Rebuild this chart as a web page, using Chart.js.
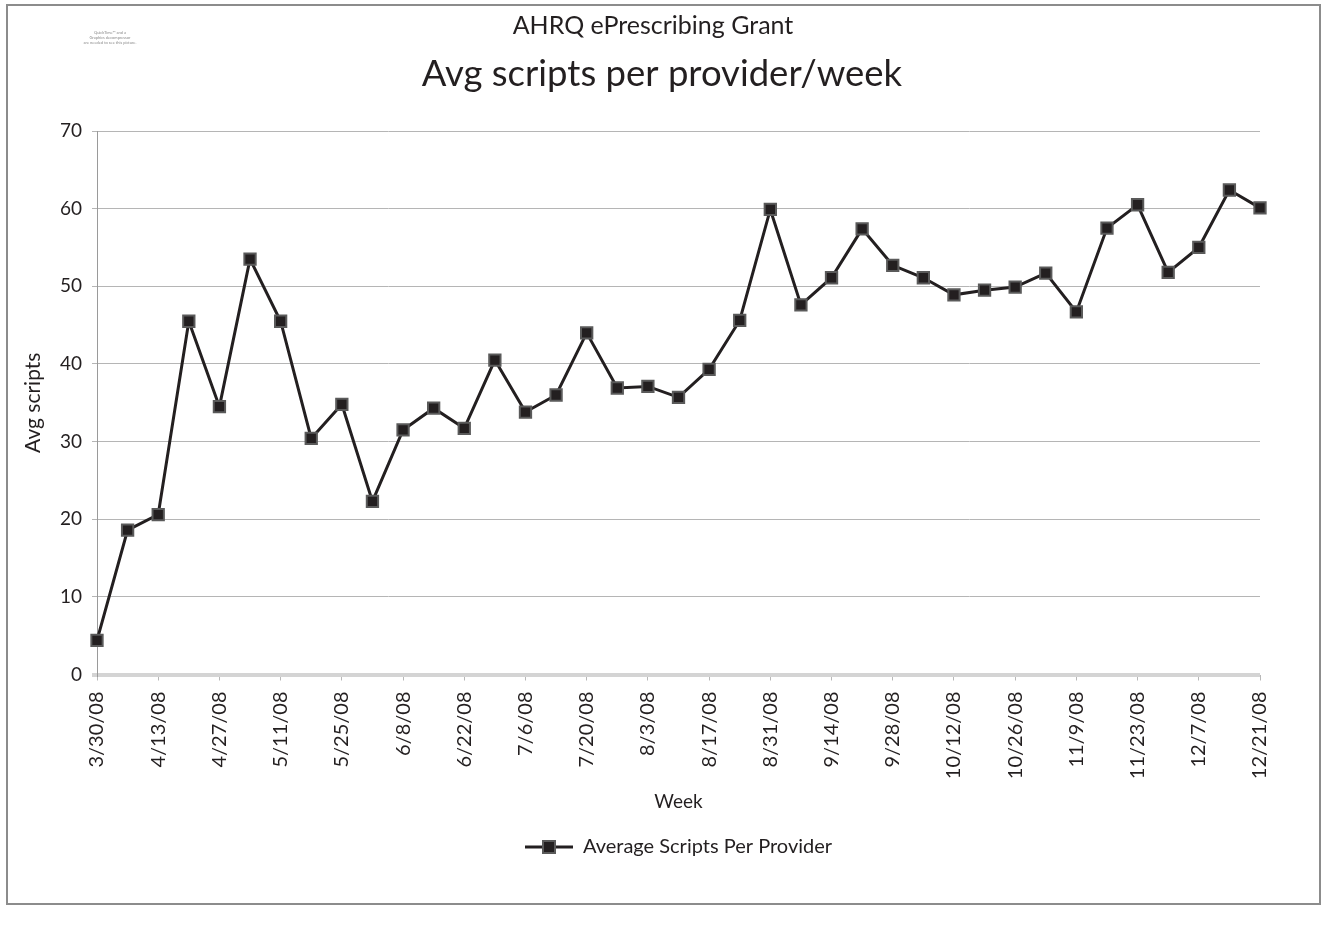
<!DOCTYPE html>
<html>
<head>
<meta charset="utf-8">
<title>Avg scripts per provider/week</title>
<script src="https://cdn.jsdelivr.net/npm/chart.js@4"></script>
<style>
  html,body{margin:0;padding:0;background:#fff}
  #wrap{position:relative;width:1323px;height:935px}
  #frame{position:absolute;left:6px;top:4px;width:1311px;height:897px;border:2px solid #8c8c8c}
  #c{position:absolute;left:0;top:0}
</style>
</head>
<body>
<div id="wrap">
  <div id="frame"></div>
  <canvas id="c" width="1323" height="935"></canvas>
</div>
<script>
const weeks=['3/30/08','4/6/08','4/13/08','4/20/08','4/27/08','5/4/08','5/11/08','5/18/08','5/25/08','6/1/08',
  '6/8/08','6/15/08','6/22/08','6/29/08','7/6/08','7/13/08','7/20/08','7/27/08','8/3/08','8/10/08',
  '8/17/08','8/24/08','8/31/08','9/7/08','9/14/08','9/21/08','9/28/08','10/5/08','10/12/08','10/19/08',
  '10/26/08','11/2/08','11/9/08','11/16/08','11/23/08','11/30/08','12/7/08','12/14/08','12/21/08'];
const avgScripts=[4.4,18.6,20.6,45.5,34.5,53.5,45.5,30.4,34.8,22.3,
  31.5,34.3,31.7,40.5,33.8,36.0,44.0,36.9,37.1,35.7,
  39.3,45.6,59.9,47.6,51.1,57.4,52.7,51.1,48.9,49.5,
  49.9,51.7,46.7,57.5,60.5,51.8,55.0,62.4,60.1];
const yTicks=[0,10,20,30,40,50,60,70];

const FONT='Lato, "Noto Sans", sans-serif';
const INK='#231f20';

// legend swatch: line with a square marker on it
const swatch=document.createElement('canvas');
swatch.width=48;swatch.height=16;
(function(){
  const g=swatch.getContext('2d');
  g.strokeStyle=INK;g.lineWidth=3;
  g.beginPath();g.moveTo(0,8);g.lineTo(48,8);g.stroke();
  g.fillStyle=INK;g.fillRect(18,2,12,12);
  g.strokeStyle='#5a5a5a';g.lineWidth=2;g.strokeRect(18,2,12,12);
})();

// headings and the little placeholder note in the corner
const headings={
  id:'headings',
  afterDraw(chart){
    const g=chart.ctx;
    g.save();
    g.fillStyle=INK;g.textAlign='center';g.textBaseline='alphabetic';
    g.font='25px '+FONT;
    g.fillText('AHRQ ePrescribing Grant',653,34);
    g.font='36.5px '+FONT;
    g.fillText('Avg scripts per provider/week',662,86);
    g.fillStyle='#8a8a8a';g.font='4px '+FONT;
    g.fillText('QuickTime\u2122 and a',110,34);
    g.fillText('Graphics decompressor',110,39);
    g.fillText('are needed to see this picture.',110,44);
    g.restore();
  }
};

new Chart(document.getElementById('c'),{
  type:'line',
  data:{labels:weeks,datasets:[{
    label:'Average Scripts Per Provider',
    data:avgScripts,
    borderColor:INK,borderWidth:3,
    pointStyle:'rect',pointRadius:8,pointHoverRadius:8,
    pointBackgroundColor:INK,pointBorderColor:'#5a5a5a',pointBorderWidth:2,
    tension:0,fill:false
  }]},
  options:{
    responsive:false,animation:false,
    layout:{padding:{top:131,right:63,bottom:68,left:0}},
    plugins:{
      title:{display:false},
      tooltip:{enabled:false},
      legend:{
        position:'bottom',fullSize:false,
        labels:{usePointStyle:true,pointStyle:swatch,pointStyleWidth:48,
          color:INK,font:{family:FONT,size:20},padding:10}
      }
    },
    scales:{
      x:{
        offset:false,
        afterFit(s){s.height=152.5;},
        border:{display:false},
        grid:{drawOnChartArea:false,drawTicks:true,tickLength:6,
          color:'transparent',
          tickColor:c=>c.index%2?'transparent':'#b8b8b8',tickWidth:1},
        ticks:{autoSkip:false,maxRotation:90,minRotation:90,padding:11,
          color:INK,font:{family:FONT,size:20},
          callback(v,i){return i%2?'':weeks[i];}},
        title:{display:true,text:'Week',color:INK,font:{family:FONT,size:19},padding:{top:4,bottom:14}}
      },
      y:{
        min:0,max:70,
        afterFit(s){s.width=97;},
        afterBuildTicks(s){s.ticks=yTicks.map(v=>({value:v}));},
        border:{display:true,color:'#9a9a9a',width:1},
        grid:{tickLength:5,
          color:c=>c.tick&&c.tick.value===0?'#d4d4d4':'#b5b5b5',
          lineWidth:c=>c.tick&&c.tick.value===0?4:1},
        ticks:{padding:10,color:INK,font:{family:FONT,size:19}},
        title:{display:true,text:'Avg scripts',color:INK,font:{family:FONT,size:21},padding:{top:21,bottom:0}}
      }
    }
  },
  plugins:[headings]
});
</script>
</body>
</html>
